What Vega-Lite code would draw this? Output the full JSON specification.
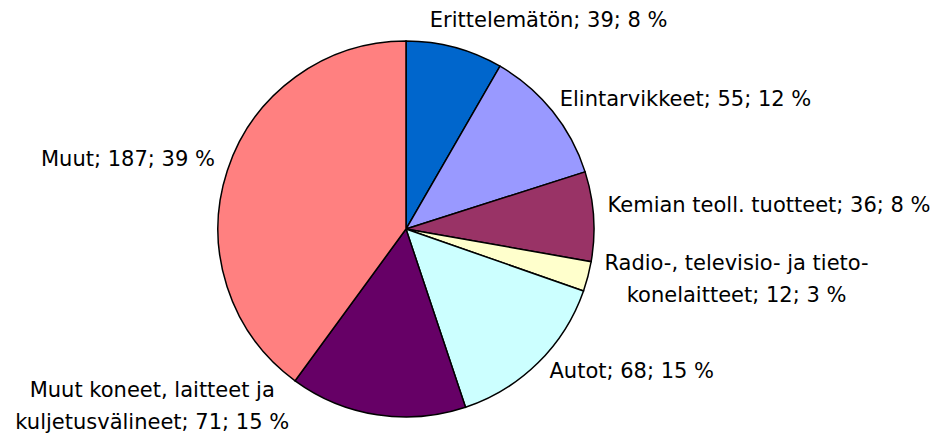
{
  "$schema": "https://vega.github.io/schema/vega-lite/v6.json",
  "autosize": {"type": "none"},
  "width": 812,
  "height": 436,
  "padding": {"left": 0, "top": 11, "right": 132, "bottom": 0},
  "background": "white",
  "config": {"view": {"stroke": null}},
  "data": {"values": [
    {"i": 1, "cat": "Erittelemätön", "value": 39, "label": "Erittelemätön; 39; 8 %"},
    {"i": 2, "cat": "Elintarvikkeet", "value": 55, "label": "Elintarvikkeet; 55; 12 %"},
    {"i": 3, "cat": "Kemian teoll. tuotteet", "value": 36, "label": "Kemian teoll. tuotteet; 36; 8 %"},
    {"i": 4, "cat": "Radio-, televisio- ja tietokonelaitteet", "value": 12, "label": "Radio-, televisio- ja tieto-\nkonelaitteet; 12; 3 %"},
    {"i": 5, "cat": "Autot", "value": 68, "label": "Autot; 68; 15 %"},
    {"i": 6, "cat": "Muut koneet, laitteet ja kuljetusvälineet", "value": 71, "label": "Muut koneet, laitteet ja\nkuljetusvälineet; 71; 15 %"},
    {"i": 7, "cat": "Muut", "value": 187, "label": "Muut; 187; 39 %"}
  ]},
  "encoding": {
    "theta": {"field": "value", "type": "quantitative", "stack": true},
    "order": {"field": "i", "type": "quantitative"}
  },
  "layer": [
    {
      "mark": {"type": "arc", "radius": 188, "stroke": "black", "strokeWidth": 1.5},
      "encoding": {
        "color": {"field": "cat", "type": "nominal", "legend": null,
          "scale": {"domain": ["Erittelemätön", "Elintarvikkeet", "Kemian teoll. tuotteet", "Radio-, televisio- ja tietokonelaitteet", "Autot", "Muut koneet, laitteet ja kuljetusvälineet", "Muut"],
                    "range": ["#0066CC", "#9999FF", "#993366", "#FFFFCC", "#CCFFFF", "#660066", "#FF8080"]}}
      }
    },
    {
      "mark": {"type": "text", "radius": 200, "align": "left", "baseline": "middle", "dx": -28, "dy": -15, "font": "DejaVu Sans", "fontSize": 21, "color": "black"},
      "encoding": {"text": {"condition": {"test": "datum.i === 1", "field": "label", "type": "nominal"}, "value": ""}}
    },
    {
      "mark": {"type": "text", "radius": 200, "align": "left", "baseline": "middle", "dx": -2, "dy": -4, "font": "DejaVu Sans", "fontSize": 21, "color": "black"},
      "encoding": {"text": {"condition": {"test": "datum.i === 2", "field": "label", "type": "nominal"}, "value": ""}}
    },
    {
      "mark": {"type": "text", "radius": 200, "align": "left", "baseline": "middle", "dx": 2, "dy": -10, "font": "DejaVu Sans", "fontSize": 21, "color": "black"},
      "encoding": {"text": {"condition": {"test": "datum.i === 3", "field": "label", "type": "nominal"}, "value": ""}}
    },
    {
      "mark": {"type": "text", "radius": 200, "align": "center", "baseline": "middle", "dx": 137, "dy": -15, "font": "DejaVu Sans", "fontSize": 21, "lineHeight": 32, "lineBreak": "\n", "color": "black"},
      "encoding": {"text": {"condition": {"test": "datum.i === 4", "field": "label", "type": "nominal"}, "value": ""}}
    },
    {
      "mark": {"type": "text", "radius": 200, "align": "left", "baseline": "middle", "dx": 3, "dy": 1, "font": "DejaVu Sans", "fontSize": 21, "color": "black"},
      "encoding": {"text": {"condition": {"test": "datum.i === 5", "field": "label", "type": "nominal"}, "value": ""}}
    },
    {
      "mark": {"type": "text", "radius": 200, "align": "center", "baseline": "middle", "dx": -223, "dy": -36, "font": "DejaVu Sans", "fontSize": 21, "lineHeight": 32, "lineBreak": "\n", "color": "black"},
      "encoding": {"text": {"condition": {"test": "datum.i === 6", "field": "label", "type": "nominal"}, "value": ""}}
    },
    {
      "mark": {"type": "text", "radius": 200, "align": "right", "baseline": "middle", "dx": -1, "dy": -7, "font": "DejaVu Sans", "fontSize": 21, "color": "black"},
      "encoding": {"text": {"condition": {"test": "datum.i === 7", "field": "label", "type": "nominal"}, "value": ""}}
    }
  ]
}
